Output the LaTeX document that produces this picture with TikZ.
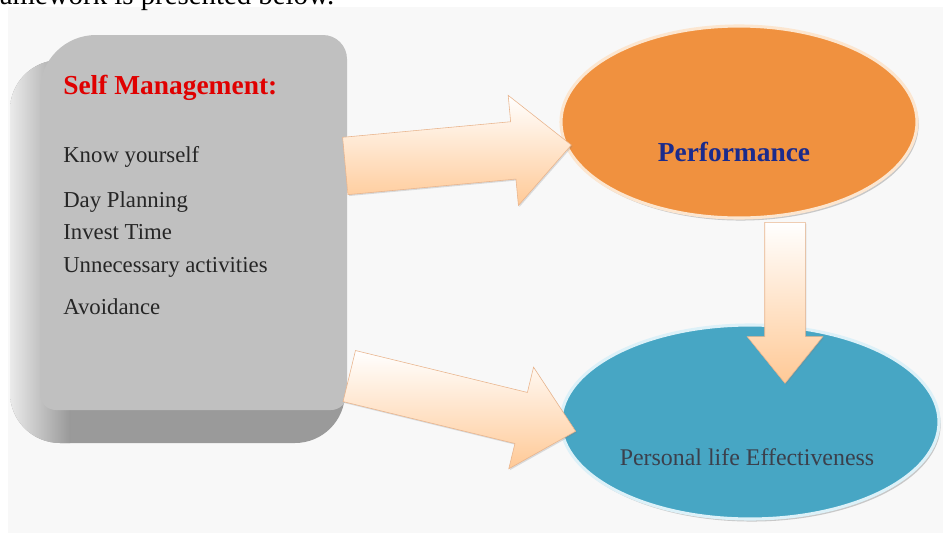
\documentclass[tikz,border=0pt]{standalone}
\usepackage{fontspec}
\setmainfont{Liberation Serif}
\usetikzlibrary{shapes.arrows,shapes.geometric,shadows}
\definecolor{pagebg}{HTML}{F8F8F8}
\definecolor{facegray}{HTML}{C0C0C0}
\definecolor{bevelgray}{HTML}{9A9A9A}
\definecolor{perforange}{HTML}{F0913F}
\definecolor{perfrim}{HTML}{FCE6D0}
\definecolor{effblue}{HTML}{47A6C4}
\definecolor{effrim}{HTML}{DDF1F8}
\definecolor{peach}{HTML}{FFC996}
\definecolor{peachline}{HTML}{E9B48C}
\definecolor{titlered}{HTML}{E00000}
\definecolor{perfnavy}{HTML}{1B2B8C}
\definecolor{efftext}{HTML}{3B404C}
\newcommand{\px}{0.025cm}
\tikzset{
  item text/.style={
    anchor=west,
    inner sep=0pt,
    text=black!85,
    font=\fontsize{16.2}{19}\selectfont,
  },
  goal oval/.style={
    ellipse,
    line width=2.2pt,
    drop shadow={shadow xshift=1.2pt, shadow yshift=-1.8pt, opacity=0.4},
  },
  fat arrow/.style={
    single arrow,
    anchor=tail,
    inner xsep=0pt,
    draw=peachline,
    line width=0.4pt,
    top color=white,
    bottom color=peach,
    drop shadow={shadow xshift=0.8pt, shadow yshift=-1pt, opacity=0.25},
  }
}

\begin{document}
\begin{tikzpicture}[x=0.025cm, y=-0.025cm]

\useasboundingbox (0,0) rectangle (943,533);
\fill[pagebg] (8,7) rectangle (943,533);
\node[anchor=base west, inner sep=0pt, font=\fontsize{20.5}{24}\selectfont] (intro) at (-26,4) {Framework is presented below.};

% the bevelled box
\fill[bevelgray, rounded corners=1.25cm] (10,60) rectangle (345,443);
\begin{scope}
  \clip[rounded corners=1.25cm] (10,60) rectangle (345,443);
  \shade[left color=black!8, right color=black!40] (10,40) rectangle (70,450);
\end{scope}
\fill[facegray] (40,300) [rounded corners=1.4cm] -- (40,35) [rounded corners=0.6cm] -- (347,35)
  [rounded corners=0.4cm] -- (347,410) [rounded corners=0.4cm] -- (40,410) -- cycle;

\node[anchor=west, inner sep=0pt, text=titlered, font=\bfseries\fontsize{19.5}{22}\selectfont] (title) at (63,88) {Self Management:};
\node[item text] (know) at (63,157) {Know yourself};
\node[item text] (plan) at (63,202) {Day Planning};
\node[item text] (invest) at (63,232) {Invest Time};
\node[item text] (unnec) at (63,267) {Unnecessary activities};
\node[item text] (avoid) at (63,307) {Avoidance};

% the two goals
\node[goal oval, fill=perforange, draw=perfrim, minimum width=356*\px, minimum height=192*\px] (perf) at (739,122) {};
\node[goal oval, fill=effblue, draw=effrim, minimum width=378*\px, minimum height=194*\px] (eff) at (750,422) {};
\node[text=perfnavy, font=\bfseries\fontsize{19.5}{22}\selectfont] (perftext) at (734,152) {Performance};
\node[text=efftext, font=\fontsize{17}{20}\selectfont] (efftext) at (747,457) {Personal life Effectiveness};

% block arrows
\node[fat arrow, rotate=5.3, inner ysep=28.5*\px, minimum height=227*\px, minimum width=110*\px,
  single arrow head extend=26.5*\px, single arrow tip angle=87] (toperf) at (345,166) {};
\node[fat arrow, rotate=-13.7, inner ysep=26*\px, minimum height=233*\px, minimum width=104*\px,
  single arrow head extend=26*\px, single arrow tip angle=86] (toeff) at (349,376) {};
\node[fat arrow, rotate=-90, inner ysep=20*\px, minimum height=161*\px, minimum width=75*\px,
  single arrow head extend=17.5*\px, single arrow tip angle=78] (down) at (785,222) {};

\end{tikzpicture}
\end{document}
